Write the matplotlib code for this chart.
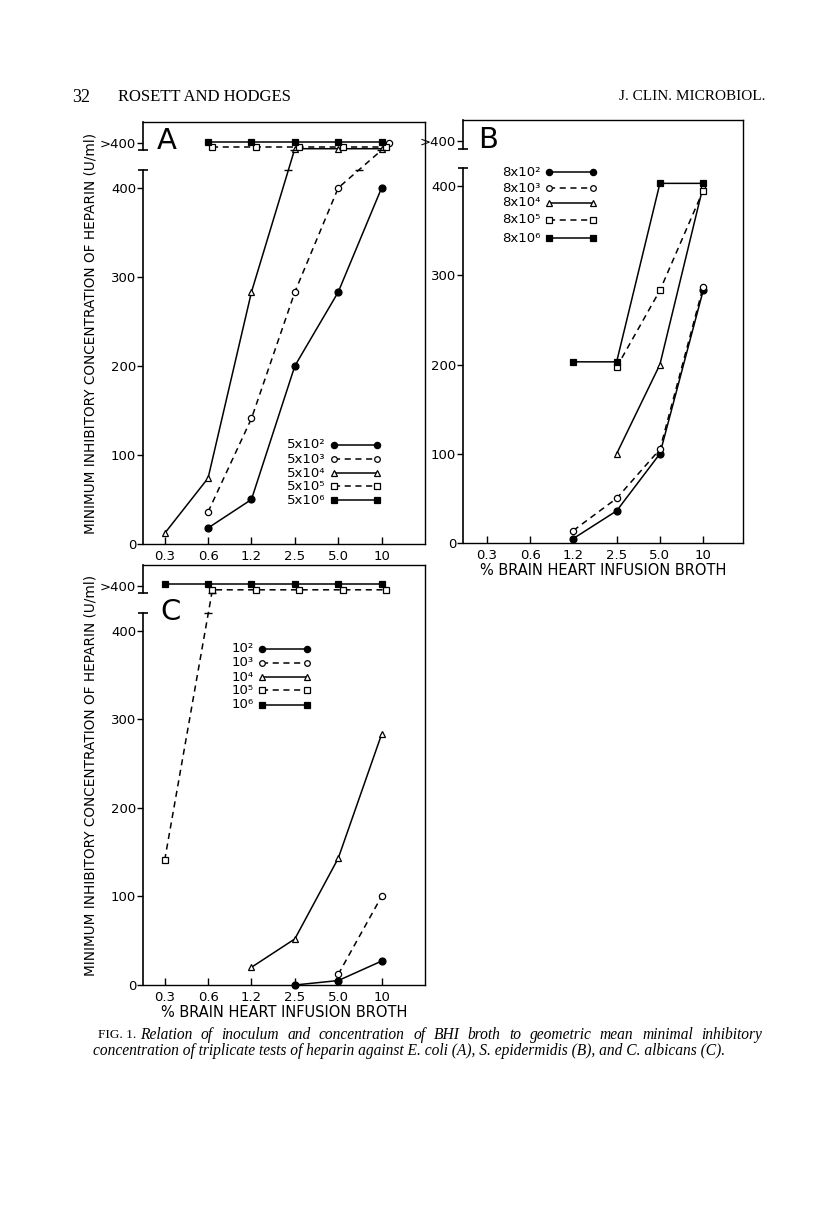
import numpy as np
import matplotlib.pyplot as plt

# % brain heart infusion broth (categorical x axis)
BROTH = ["0.3", "0.6", "1.2", "2.5", "5.0", "10"]
GT = 450          # plotting level used for ">400"
BREAK = (420, 442)  # gap in the y axis

# Panel A - E. coli
A_LABELS = ["5x10²", "5x10³", "5x10⁴", "5x10⁵", "5x10⁶"]
A_VALUES = [
    [None, 18, 50, 200, 283, 400],
    [None, 36, 141, 283, 400, GT],
    [12, 74, 283, GT, GT, GT],
    [None, GT, GT, GT, GT, GT],
    [None, GT, GT, GT, GT, GT],
]

# Panel B - S. epidermidis
B_LABELS = ["8x10²", "8x10³", "8x10⁴", "8x10⁵", "8x10⁶"]
B_VALUES = [
    [None, None, 5, 36, 100, 283],
    [None, None, 14, 50, 105, 287],
    [None, None, None, 100, 200, 400],
    [None, None, None, 197, 283, 395],
    [None, None, 203, 203, 403, 403],
]

# Panel C - C. albicans
C_LABELS = ["10²", "10³", "10⁴", "10⁵", "10⁶"]
C_VALUES = [
    [None, None, None, 0, 5, 27],
    [None, None, None, None, 12, 100],
    [None, None, 20, 52, 143, 283],
    [141, GT, GT, GT, GT, GT],
    [GT, GT, GT, GT, GT, GT],
]

YTICKS = [0, 100, 200, 300, 400, GT]
YTICKLABELS = ["0", "100", "200", "300", "400", ">400"]

# marker / line style per inoculum level
STYLES = [
    dict(marker="o", mfc="black", ms=5.0, ls="-"),
    dict(marker="o", mfc="white", ms=4.5, ls=(0, (4, 3))),
    dict(marker="^", mfc="white", ms=5.0, ls="-"),
    dict(marker="s", mfc="white", ms=4.5, ls=(0, (4, 3))),
    dict(marker="s", mfc="black", ms=4.8, ls="-"),
]
# small offsets so the ">400" rows don't sit on top of each other
GT_SHIFT = [(0, 0), (0.18, 0), (0, -6), (0.1, -4), (0, 2)]

FONT = "DejaVu Sans"
SERIF = "Liberation Serif"

fig = plt.figure(figsize=(8.16, 12.08), dpi=100)
W, H = 816, 1208


def make_axes(left, top, right, bottom):
    return fig.add_axes([left / W, 1 - bottom / H, (right - left) / W, (bottom - top) / H])


def draw_panel(ax, values, labels, letter, letter_xy, leg, xlim):
    ax.set_xlim(*xlim)
    ax.set_ylim(0, 474)
    xs = np.arange(len(BROTH))

    for i, vals in enumerate(values):
        st = STYLES[i]
        px, py = [], []
        for x, v in zip(xs, vals):
            if v is None:
                continue
            if v == GT:
                px.append(x + GT_SHIFT[i][0]); py.append(v + GT_SHIFT[i][1])
            else:
                px.append(x); py.append(v)
        ax.plot(px, py, color="black", lw=1.1, ls=st["ls"], marker=st["marker"],
                mfc=st["mfc"], mec="black", mew=0.9, ms=st["ms"], zorder=3 + i * 0.1,
                clip_on=False)
        # break ticks where a line crosses the axis gap
        for (x0, y0), (x1, y1) in zip(zip(px, py), zip(px[1:], py[1:])):
            if y0 < BREAK[0] and y1 > BREAK[1]:
                for yb in BREAK:
                    xb = x0 + (yb - y0) / (y1 - y0) * (x1 - x0)
                    ax.plot([xb], [yb], marker="_", color="black", ms=6, mew=1.0, zorder=4)

    # broken left spine
    ax.spines["left"].set_visible(False)
    tr = ax.get_yaxis_transform()
    ax.plot([0, 0], [0, BREAK[0]], color="black", lw=1.2, transform=tr, clip_on=False)
    ax.plot([0, 0], [BREAK[1], 474], color="black", lw=1.2, transform=tr, clip_on=False)
    ax.plot([0, 0], [BREAK[0], BREAK[1]], ls="none", marker="_", ms=7, mew=1.2,
            color="black", transform=tr, clip_on=False)
    for s in ["top", "right", "bottom"]:
        ax.spines[s].set_linewidth(1.0)

    ax.set_yticks(YTICKS)
    ax.set_yticklabels(YTICKLABELS, fontsize=9.5, family=FONT)
    ax.set_xticks(xs)
    ax.set_xticklabels(BROTH, fontsize=9.5, family=FONT)
    ax.tick_params(axis="y", direction="out", length=4, width=1.0, pad=1)
    ax.tick_params(axis="x", direction="in", length=5, width=1.0, pad=4)

    ax.text(*letter_xy, letter, transform=ax.transAxes, fontsize=21, family=FONT,
            ha="left", va="center")

    # hand-drawn legend
    lx0, lx1, rows = leg
    for i, (lab, yy) in enumerate(zip(labels, rows)):
        st = STYLES[i]
        ax.text(lx0 - 0.03, yy, lab, transform=ax.transAxes, fontsize=9.5, family=FONT,
                ha="right", va="center")
        ax.plot([lx0, lx1], [yy, yy], transform=ax.transAxes, color="black", lw=1.1,
                ls=st["ls"], marker=st["marker"], mfc=st["mfc"], mec="black", mew=0.9,
                ms=st["ms"] * 0.9)


YLABEL = "MINIMUM INHIBITORY CONCENTRATION OF HEPARIN (U/ml)"
XLABEL = "% BRAIN HEART INFUSION BROTH"

axA = make_axes(143, 122, 425, 544)
draw_panel(axA, A_VALUES, A_LABELS, "A", (0.05, 0.955),
           (0.677, 0.83, [0.235, 0.201, 0.168, 0.137, 0.104]), (-0.5, 6.0))
axA.set_ylabel(YLABEL, fontsize=9.8, family=FONT, labelpad=2)

axB = make_axes(463, 120, 743, 543)
draw_panel(axB, B_VALUES, B_LABELS, "B", (0.055, 0.953),
           (0.307, 0.464, [0.877, 0.839, 0.804, 0.764, 0.721]), (-0.55, 5.92))
axB.set_xlabel(XLABEL, fontsize=10.5, family=FONT, labelpad=1)

axC = make_axes(143, 565, 425, 985)
draw_panel(axC, C_VALUES, C_LABELS, "C", (0.06, 0.888),
           (0.422, 0.582, [0.800, 0.767, 0.733, 0.702, 0.667]), (-0.5, 6.0))
axC.set_ylabel(YLABEL, fontsize=9.8, family=FONT, labelpad=2)
axC.set_xlabel(XLABEL, fontsize=10.5, family=FONT, labelpad=1)

# page header
fig.text(72 / W, 1 - 97 / H, "32", fontsize=13, family=SERIF, va="center")
fig.text(118 / W, 1 - 97 / H, "ROSETT AND HODGES", fontsize=12, family=SERIF, va="center")
fig.text(765 / W, 1 - 97 / H, "J. CLIN. MICROBIOL.", fontsize=11, family=SERIF,
         va="center", ha="right")

# caption (first line justified between x0 and x1 pixels)
CAP1 = "Relation of inoculum and concentration of BHI broth to geometric mean minimal inhibitory"
CAP2 = ("concentration of triplicate tests of heparin against E. coli (A), "
        "S. epidermidis (B), and C. albicans (C).")
fig.text(98 / W, 1 - 1035 / H, "FIG. 1.", fontsize=9.5, family=SERIF, va="center")

renderer = fig.canvas.get_renderer()
words = CAP1.split()
x0, x1 = 140, 762
items = [fig.text(0, 1 - 1035 / H, w, fontsize=11.2, family=SERIF, style="italic",
                  va="center") for w in words]
widths = [t.get_window_extent(renderer).width for t in items]
gap = (x1 - x0 - sum(widths)) / (len(words) - 1)
xpos = x0
for t, wd in zip(items, widths):
    t.set_x(xpos / W)
    xpos += wd + gap

fig.text(93 / W, 1 - 1051 / H, CAP2, fontsize=11.2, family=SERIF, style="italic",
         va="center")

fig.savefig("out.png", dpi=100)
